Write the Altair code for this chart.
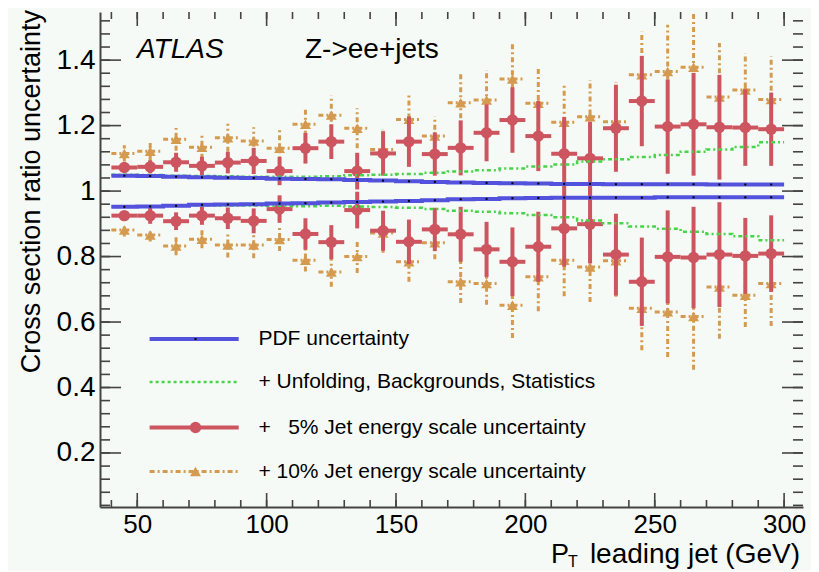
import altair as alt
import pandas as pd

# ---------------- data ----------------
bin_lo = [40 + 10 * i for i in range(26)]
bin_hi = [50 + 10 * i for i in range(26)]
centers = [45 + 10 * i for i in range(26)]

red_up = [1.072, 1.074, 1.088, 1.077, 1.087, 1.092, 1.061, 1.131, 1.151, 1.061, 1.115, 1.151, 1.113,
          1.132, 1.178, 1.217, 1.168, 1.114, 1.100, 1.192, 1.275, 1.197, 1.204, 1.195, 1.194, 1.189]
red_up_err = [0.012, 0.020, 0.029, 0.028, 0.033, 0.040, 0.043, 0.047, 0.053, 0.056, 0.068, 0.077, 0.066,
              0.084, 0.087, 0.100, 0.107, 0.112, 0.112, 0.133, 0.138, 0.144, 0.157, 0.160, 0.117, 0.112]
red_lo = [0.925, 0.925, 0.908, 0.925, 0.917, 0.909, 0.945, 0.869, 0.844, 0.942, 0.879, 0.845, 0.883,
          0.868, 0.822, 0.784, 0.830, 0.886, 0.899, 0.806, 0.723, 0.799, 0.797, 0.806, 0.802, 0.809]
red_lo_err = [0.012, 0.025, 0.027, 0.028, 0.033, 0.038, 0.042, 0.048, 0.052, 0.056, 0.061, 0.068, 0.066,
              0.084, 0.084, 0.105, 0.107, 0.117, 0.120, 0.125, 0.135, 0.142, 0.155, 0.160, 0.116, 0.117]

orange_up = [1.115, 1.122, 1.158, 1.134, 1.163, 1.153, 1.131, 1.204, 1.232, 1.192, 1.127, 1.219, 1.168,
             1.270, 1.278, 1.342, 1.268, 1.210, 1.227, 1.212, 1.355, 1.365, 1.378, 1.287, 1.309, 1.280]
orange_up_err = [0.025, 0.030, 0.035, 0.035, 0.043, 0.042, 0.055, 0.050, 0.060, 0.061, 0.060, 0.077, 0.060,
                 0.087, 0.092, 0.107, 0.109, 0.117, 0.112, 0.120, 0.132, 0.143, 0.170, 0.165, 0.112, 0.132]
orange_lo = [0.881, 0.866, 0.832, 0.853, 0.835, 0.835, 0.852, 0.789, 0.753, 0.800, 0.872, 0.784, 0.842,
             0.723, 0.718, 0.651, 0.738, 0.789, 0.768, 0.787, 0.642, 0.631, 0.617, 0.707, 0.682, 0.718]
orange_lo_err = [0.020, 0.020, 0.028, 0.028, 0.038, 0.040, 0.035, 0.035, 0.045, 0.050, 0.060, 0.061, 0.050,
                 0.065, 0.065, 0.100, 0.105, 0.110, 0.107, 0.110, 0.128, 0.138, 0.163, 0.158, 0.097, 0.130]

pdf_up = [1.047, 1.046, 1.044, 1.042, 1.041, 1.040, 1.038, 1.037, 1.036, 1.034, 1.032, 1.030, 1.028,
          1.026, 1.025, 1.024, 1.023, 1.022, 1.022, 1.021, 1.021, 1.021, 1.021, 1.020, 1.020, 1.020]
pdf_lo = [0.952, 0.953, 0.955, 0.958, 0.959, 0.960, 0.962, 0.963, 0.965, 0.967, 0.968, 0.970, 0.972,
          0.975, 0.976, 0.978, 0.979, 0.980, 0.980, 0.980, 0.980, 0.981, 0.981, 0.981, 0.981, 0.981]
green_up = [1.050, 1.049, 1.047, 1.046, 1.045, 1.044, 1.044, 1.044, 1.045, 1.048, 1.050, 1.052, 1.056,
            1.060, 1.064, 1.069, 1.075, 1.081, 1.090, 1.097, 1.104, 1.110, 1.120, 1.127, 1.135, 1.149]
green_lo = [0.953, 0.954, 0.956, 0.957, 0.956, 0.956, 0.955, 0.954, 0.955, 0.953, 0.951, 0.949, 0.945,
            0.940, 0.937, 0.932, 0.927, 0.920, 0.910, 0.902, 0.892, 0.885, 0.876, 0.869, 0.862, 0.850]

x_major = [50, 100, 150, 200, 250, 300]
x_minor = [40 + 10 * i for i in range(27)]
y_major = [0.2, 0.4, 0.6, 0.8, 1.0, 1.2, 1.4]
y_minor = [round(0.04 * i, 2) for i in range(1, 39)]

legend_labels = ["PDF uncertainty",
                 "+ Unfolding, Backgrounds, Statistics",
                 "+\u00a0\u00a0\u00a05% Jet energy scale uncertainty",
                 "+ 10% Jet energy scale uncertainty"]

# ---------------- styles ----------------
RED = "#cd5560"
ORANGE = "#d49b50"
BLUE = "#5252dc"
GREEN = "#48d448"
AXC = "#444444"
FONT = "Liberation Sans"
W, H = 703, 495
XDOM = [35.6, 307.3]
YDOM = [0.035, 1.547]

xs = alt.Scale(domain=XDOM, nice=False, zero=False)
ys = alt.Scale(domain=YDOM, nice=False, zero=False)

XAX = alt.Axis(values=x_major, title=None, ticks=False, grid=False, labelFontSize=26, labelFont=FONT,
               labelColor="black", labelPadding=4, domainColor=AXC, domainWidth=2, labelFlush=False)
YAX = alt.Axis(values=y_major, title=None, ticks=False, grid=False, format=".1~f", labelFontSize=28,
               labelFont=FONT, labelColor="black", labelPadding=5, domainColor=AXC, domainWidth=2,
               labelFlush=False)


def X(f):
    return alt.X(f, type="quantitative", scale=xs, axis=XAX, title=None)


def Y(f):
    return alt.Y(f, type="quantitative", scale=ys, axis=YAX, title=None)


def bars(vals, errs):
    return pd.DataFrame({
        "c": centers, "lo": bin_lo, "hi": bin_hi, "v": vals,
        "e1": [v - e for v, e in zip(vals, errs)],
        "e2": [v + e for v, e in zip(vals, errs)],
    })


red_df = pd.concat([bars(red_up, red_up_err), bars(red_lo, red_lo_err)])
orange_df = pd.concat([bars(orange_up, orange_up_err), bars(orange_lo, orange_lo_err)])


def steps(vals, name):
    rows = []
    for i, v in enumerate(vals):
        rows.append({"x": bin_lo[i], "y": v, "s": name, "o": 2 * i})
        rows.append({"x": bin_hi[i], "y": v, "s": name, "o": 2 * i + 1})
    return rows


blue_steps = pd.DataFrame(steps(pdf_up, "u") + steps(pdf_lo, "l"))
green_steps = pd.DataFrame(steps(green_up, "u") + steps(green_lo, "l"))
blue_pts = pd.DataFrame({"c": centers * 2, "v": pdf_up + pdf_lo})

# orange (10% JES)
o_dash = [5, 3, 2, 3]
o_v = alt.Chart(orange_df).mark_rule(color=ORANGE, strokeWidth=3, strokeDash=o_dash).encode(
    x=X("c"), y=Y("e1"), y2="e2")
o_h = alt.Chart(orange_df).mark_rule(color=ORANGE, strokeWidth=3, strokeDash=o_dash).encode(
    x=X("lo"), x2="hi", y=Y("v"))
o_m = alt.Chart(orange_df).mark_point(shape="triangle-up", filled=True, size=120, color=ORANGE,
                                      opacity=1).encode(x=X("c"), y=Y("v"))

# red (5% JES)
r_v = alt.Chart(red_df).mark_rule(color=RED, strokeWidth=4).encode(x=X("c"), y=Y("e1"), y2="e2")
r_h = alt.Chart(red_df).mark_rule(color=RED, strokeWidth=4).encode(x=X("lo"), x2="hi", y=Y("v"))
r_m = alt.Chart(red_df).mark_circle(size=130, color=RED, opacity=1).encode(x=X("c"), y=Y("v"))

# green step lines
g_l = alt.Chart(green_steps).mark_line(color=GREEN, strokeWidth=2.5, strokeDash=[4, 3, 2, 3]).encode(
    x=X("x"), y=Y("y"), detail="s:N", order="o:Q")
# blue step lines
b_l = alt.Chart(blue_steps).mark_line(color=BLUE, strokeWidth=4).encode(
    x=X("x"), y=Y("y"), detail="s:N", order="o:Q")
b_p = alt.Chart(blue_pts).mark_square(size=4, color="black", opacity=1).encode(x=X("c"), y=Y("v"))


# inward ticks
def xticks(vals, length, top):
    d = pd.DataFrame({"t": vals})
    if top:
        return alt.Chart(d).mark_rule(color=AXC, strokeWidth=1.6).encode(
            x=X("t"), y=alt.value(0), y2=alt.value(length))
    return alt.Chart(d).mark_rule(color=AXC, strokeWidth=1.6).encode(
        x=X("t"), y=alt.value(H), y2=alt.value(H - length))


def yticks(vals, length, right):
    d = pd.DataFrame({"t": vals})
    if right:
        return alt.Chart(d).mark_rule(color=AXC, strokeWidth=1.6).encode(
            y=Y("t"), x=alt.value(W), x2=alt.value(W - length))
    return alt.Chart(d).mark_rule(color=AXC, strokeWidth=1.6).encode(
        y=Y("t"), x=alt.value(0), x2=alt.value(length))


ticks = [xticks(x_minor, 7, False), xticks(x_major, 14, False),
         xticks(x_minor, 7, True), xticks(x_major, 14, True),
         yticks(y_minor, 10, False), yticks(y_major, 21, False),
         yticks(y_minor, 10, True), yticks(y_major, 21, True)]

one = pd.DataFrame({"a": [0]})


def txt(s, x, y, size, align="left", baseline="alphabetic", angle=0, style="normal"):
    return alt.Chart(one).mark_text(text=s, font=FONT, fontSize=size, color="black", align=align,
                                    baseline=baseline, angle=angle, fontStyle=style).encode(
        x=alt.value(x), y=alt.value(y))


texts = [
    txt("ATLAS", 37, 46, 28, style="italic"),
    txt("Z->ee+jets", 205, 46, 28),
    txt("Cross section ratio uncertainty", -68, -2, 27, align="right", baseline="middle", angle=270),
    txt("leading jet (GeV)", W - 3, 551, 28, align="right"),
    txt("P", 451, 551, 27),
    txt("T", 468, 555, 16),
]

# legend
ly = [327, 370, 415.5, 459.5]
lx1, lx2, lmx, ltx = 49.6, 138.7, 95.5, 158.4
leg = [
    alt.Chart(one).mark_rule(color=BLUE, strokeWidth=4).encode(x=alt.value(lx1), x2=alt.value(lx2), y=alt.value(ly[0])),
    alt.Chart(one).mark_square(size=4, color="black", opacity=1).encode(x=alt.value(lmx), y=alt.value(ly[0])),
    alt.Chart(one).mark_rule(color=GREEN, strokeWidth=2.5, strokeDash=[3, 3]).encode(x=alt.value(lx1), x2=alt.value(lx2), y=alt.value(ly[1])),
    alt.Chart(one).mark_rule(color=RED, strokeWidth=4).encode(x=alt.value(lx1), x2=alt.value(lx2), y=alt.value(ly[2])),
    alt.Chart(one).mark_circle(size=130, color=RED, opacity=1).encode(x=alt.value(lmx), y=alt.value(ly[2])),
    alt.Chart(one).mark_rule(color=ORANGE, strokeWidth=3, strokeDash=o_dash).encode(x=alt.value(lx1), x2=alt.value(lx2), y=alt.value(ly[3])),
    alt.Chart(one).mark_point(shape="triangle-up", filled=True, size=120, color=ORANGE, opacity=1).encode(x=alt.value(lmx), y=alt.value(ly[3])),
]
for i, lab in enumerate(legend_labels):
    leg.append(txt(lab, ltx, ly[i], 21, baseline="middle"))

chart = alt.layer(o_v, o_h, o_m, r_v, r_h, r_m, g_l, b_l, b_p, *ticks, *leg, *texts).properties(
    width=W, height=H,
    autosize=alt.AutoSizeParams(type="none"),
    padding={"left": 92, "top": 4, "right": 8, "bottom": 64},
    background="#f6faf6",
).configure_view(stroke=None)

chart.save("out.html", embed_options={"renderer": "svg", "actions": False})
